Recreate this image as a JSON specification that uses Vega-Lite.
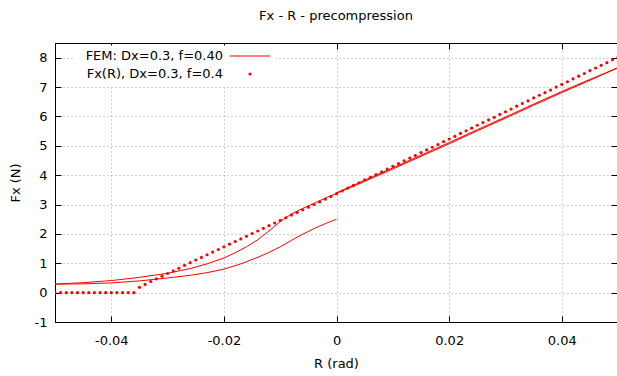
{
  "$schema": "https://vega.github.io/schema/vega-lite/v6.json",
  "width": 562,
  "height": 279,
  "autosize": {"type": "none"},
  "padding": {"left": 55, "top": 43, "right": 0, "bottom": 54},
  "background": "white",
  "title": {"text": "Fx - R - precompression", "fontSize": 13, "fontWeight": "normal", "font": "DejaVu Sans", "color": "black", "offset": 20, "anchor": "middle"},
  "config": {
    "view": {"stroke": "black", "strokeWidth": 1},
    "axis": {
      "labelFont": "DejaVu Sans", "labelFontSize": 13, "labelColor": "black",
      "titleFont": "DejaVu Sans", "titleFontSize": 13, "titleFontWeight": "normal", "titleColor": "black",
      "domainColor": "black", "tickColor": "black", "tickSize": -6,
      "gridColor": "#a0a0a0", "gridDash": [1, 3], "gridWidth": 1, "gridOpacity": 1
    },
    "legend": {
      "labelFont": "DejaVu Sans", "labelFontSize": 13, "labelColor": "black", "labelLimit": 300
    }
  },
  "datasets": {
    "fem": [
      {"i": 0, "R": 0.0, "F": 3.40}, {"i": 1, "R": 0.005, "F": 3.83}, {"i": 2, "R": 0.01, "F": 4.25},
      {"i": 3, "R": 0.015, "F": 4.68}, {"i": 4, "R": 0.02, "F": 5.11}, {"i": 5, "R": 0.025, "F": 5.55},
      {"i": 6, "R": 0.03, "F": 5.98}, {"i": 7, "R": 0.035, "F": 6.42}, {"i": 8, "R": 0.04, "F": 6.85},
      {"i": 9, "R": 0.045, "F": 7.26}, {"i": 10, "R": 0.05, "F": 7.66},
      {"i": 11, "R": 0.045, "F": 7.23}, {"i": 12, "R": 0.04, "F": 6.81}, {"i": 13, "R": 0.035, "F": 6.38},
      {"i": 14, "R": 0.03, "F": 5.94}, {"i": 15, "R": 0.025, "F": 5.51}, {"i": 16, "R": 0.02, "F": 5.07},
      {"i": 17, "R": 0.015, "F": 4.64}, {"i": 18, "R": 0.01, "F": 4.21}, {"i": 19, "R": 0.005, "F": 3.79},
      {"i": 20, "R": 0.0, "F": 3.38},
      {"i": 21, "R": -0.002, "F": 3.22}, {"i": 22, "R": -0.004, "F": 3.04}, {"i": 23, "R": -0.006, "F": 2.87},
      {"i": 24, "R": -0.008, "F": 2.68}, {"i": 25, "R": -0.010, "F": 2.42}, {"i": 26, "R": -0.012, "F": 2.10},
      {"i": 27, "R": -0.014, "F": 1.80}, {"i": 28, "R": -0.016, "F": 1.56}, {"i": 29, "R": -0.018, "F": 1.36},
      {"i": 30, "R": -0.020, "F": 1.18}, {"i": 31, "R": -0.023, "F": 0.98}, {"i": 32, "R": -0.026, "F": 0.82},
      {"i": 33, "R": -0.030, "F": 0.66}, {"i": 34, "R": -0.035, "F": 0.52}, {"i": 35, "R": -0.040, "F": 0.41},
      {"i": 36, "R": -0.045, "F": 0.34}, {"i": 37, "R": -0.050, "F": 0.29},
      {"i": 38, "R": -0.045, "F": 0.30}, {"i": 39, "R": -0.040, "F": 0.33}, {"i": 40, "R": -0.035, "F": 0.40},
      {"i": 41, "R": -0.030, "F": 0.50}, {"i": 42, "R": -0.026, "F": 0.59}, {"i": 43, "R": -0.023, "F": 0.68},
      {"i": 44, "R": -0.020, "F": 0.80}, {"i": 45, "R": -0.017, "F": 0.98}, {"i": 46, "R": -0.014, "F": 1.20},
      {"i": 47, "R": -0.012, "F": 1.37}, {"i": 48, "R": -0.010, "F": 1.56}, {"i": 49, "R": -0.008, "F": 1.78},
      {"i": 50, "R": -0.006, "F": 1.99}, {"i": 51, "R": -0.004, "F": 2.18}, {"i": 52, "R": -0.002, "F": 2.35},
      {"i": 53, "R": 0.0, "F": 2.50}
    ],
    "fx": [
      {"R": -0.050, "F": 0}, {"R": -0.049, "F": 0}, {"R": -0.048, "F": 0}, {"R": -0.047, "F": 0},
      {"R": -0.046, "F": 0}, {"R": -0.045, "F": 0}, {"R": -0.044, "F": 0}, {"R": -0.043, "F": 0},
      {"R": -0.042, "F": 0}, {"R": -0.041, "F": 0}, {"R": -0.040, "F": 0}, {"R": -0.039, "F": 0},
      {"R": -0.038, "F": 0}, {"R": -0.037, "F": 0}, {"R": -0.036, "F": 0},
      {"R": -0.035, "F": 0.18}, {"R": -0.034, "F": 0.28}, {"R": -0.033, "F": 0.38}, {"R": -0.032, "F": 0.47},
      {"R": -0.031, "F": 0.56}, {"R": -0.030, "F": 0.65}, {"R": -0.029, "F": 0.74}, {"R": -0.028, "F": 0.83},
      {"R": -0.027, "F": 0.93}, {"R": -0.026, "F": 1.02}, {"R": -0.025, "F": 1.11}, {"R": -0.024, "F": 1.20},
      {"R": -0.023, "F": 1.29}, {"R": -0.022, "F": 1.38}, {"R": -0.021, "F": 1.47}, {"R": -0.020, "F": 1.56},
      {"R": -0.019, "F": 1.65}, {"R": -0.018, "F": 1.74}, {"R": -0.017, "F": 1.83}, {"R": -0.016, "F": 1.92},
      {"R": -0.015, "F": 2.01}, {"R": -0.014, "F": 2.10}, {"R": -0.013, "F": 2.19}, {"R": -0.012, "F": 2.28},
      {"R": -0.011, "F": 2.37}, {"R": -0.010, "F": 2.46}, {"R": -0.009, "F": 2.55}, {"R": -0.008, "F": 2.64},
      {"R": -0.007, "F": 2.73}, {"R": -0.006, "F": 2.82}, {"R": -0.005, "F": 2.91}, {"R": -0.004, "F": 3.00},
      {"R": -0.003, "F": 3.09}, {"R": -0.002, "F": 3.18}, {"R": -0.001, "F": 3.27}, {"R": 0.000, "F": 3.37},
      {"R": 0.001, "F": 3.46}, {"R": 0.002, "F": 3.56}, {"R": 0.003, "F": 3.65}, {"R": 0.004, "F": 3.74},
      {"R": 0.005, "F": 3.84}, {"R": 0.006, "F": 3.93}, {"R": 0.007, "F": 4.02}, {"R": 0.008, "F": 4.11},
      {"R": 0.009, "F": 4.21}, {"R": 0.010, "F": 4.30}, {"R": 0.011, "F": 4.39}, {"R": 0.012, "F": 4.49},
      {"R": 0.013, "F": 4.58}, {"R": 0.014, "F": 4.67}, {"R": 0.015, "F": 4.77}, {"R": 0.016, "F": 4.86},
      {"R": 0.017, "F": 4.95}, {"R": 0.018, "F": 5.04}, {"R": 0.019, "F": 5.14}, {"R": 0.020, "F": 5.23},
      {"R": 0.021, "F": 5.32}, {"R": 0.022, "F": 5.42}, {"R": 0.023, "F": 5.51}, {"R": 0.024, "F": 5.60},
      {"R": 0.025, "F": 5.70}, {"R": 0.026, "F": 5.79}, {"R": 0.027, "F": 5.88}, {"R": 0.028, "F": 5.97},
      {"R": 0.029, "F": 6.07}, {"R": 0.030, "F": 6.16}, {"R": 0.031, "F": 6.25}, {"R": 0.032, "F": 6.35},
      {"R": 0.033, "F": 6.44}, {"R": 0.034, "F": 6.53}, {"R": 0.035, "F": 6.63}, {"R": 0.036, "F": 6.72},
      {"R": 0.037, "F": 6.81}, {"R": 0.038, "F": 6.90}, {"R": 0.039, "F": 7.00}, {"R": 0.040, "F": 7.09},
      {"R": 0.041, "F": 7.18}, {"R": 0.042, "F": 7.28}, {"R": 0.043, "F": 7.37}, {"R": 0.044, "F": 7.46},
      {"R": 0.045, "F": 7.56}, {"R": 0.046, "F": 7.65}, {"R": 0.047, "F": 7.74}, {"R": 0.048, "F": 7.83},
      {"R": 0.049, "F": 7.93}, {"R": 0.050, "F": 8.02}
    ]
  },
  "layer": [
    {
      "data": {"name": "fem"},
      "mark": {"type": "line", "strokeWidth": 1, "clip": true},
      "encoding": {
        "x": {
          "field": "R", "type": "quantitative",
          "scale": {"domain": [-0.05, 0.0498], "nice": false, "zero": false},
          "axis": {
            "orient": "bottom", "title": "R (rad)", "values": [-0.04, -0.02, 0, 0.02, 0.04],
            "labelExpr": "'' + datum.value", "labelPadding": 18, "grid": true,
            "titleY": 41, "titleBaseline": "middle"
          }
        },
        "y": {
          "field": "F", "type": "quantitative",
          "scale": {"domain": [-1, 8.5], "nice": false, "zero": false},
          "axis": {
            "orient": "left", "title": "Fx (N)", "values": [-1, 0, 1, 2, 3, 4, 5, 6, 7, 8],
            "labelExpr": "'' + datum.value", "labelPadding": 14, "grid": true,
            "titleX": -40, "titleBaseline": "middle"
          }
        },
        "order": {"field": "i", "type": "quantitative"},
        "stroke": {
          "datum": "FEM: Dx=0.3, f=0.40",
          "scale": {"range": ["#ff0000"]},
          "legend": {
            "orient": "none", "legendX": 20, "legendY": 2.5, "title": null,
            "symbolType": "M-4,0H4", "symbolSize": 100, "symbolStrokeWidth": 1,
            "symbolStrokeColor": "#ff0000",
            "labelAlign": "right", "labelOffset": -33.5, "symbolOffset": 164.5,
            "fillColor": "white", "padding": 4, "offset": 0
          }
        }
      }
    },
    {
      "data": {"name": "fx"},
      "mark": {"type": "circle", "size": 10, "opacity": 1, "clip": true},
      "encoding": {
        "x": {
          "field": "R", "type": "quantitative",
          "scale": {"domain": [-0.05, 0.0498], "nice": false, "zero": false},
          "axis": {"orient": "top", "title": null, "values": [-0.04, -0.02, 0, 0.02, 0.04], "labels": false, "grid": false}
        },
        "y": {
          "field": "F", "type": "quantitative",
          "scale": {"domain": [-1, 8.5], "nice": false, "zero": false},
          "axis": {"orient": "right", "title": null, "values": [-1, 0, 1, 2, 3, 4, 5, 6, 7, 8], "labels": false, "grid": false}
        },
        "fill": {
          "datum": "Fx(R), Dx=0.3, f=0.4",
          "scale": {"range": ["#ff0000"]},
          "legend": {
            "orient": "none", "legendX": 20, "legendY": 20.5, "title": null,
            "symbolType": "M-0.32,0A0.32,0.32 0 1,0 0.32,0A0.32,0.32 0 1,0 -0.32,0Z", "symbolSize": 100,
            "symbolFillColor": "#ff0000", "symbolStrokeWidth": 1, "symbolStrokeColor": "transparent",
            "labelAlign": "right", "labelOffset": -33.5, "symbolOffset": 164.5,
            "fillColor": "white", "padding": 4, "offset": 0
          }
        }
      }
    }
  ],
  "resolve": {"axis": {"x": "independent", "y": "independent"}}
}
